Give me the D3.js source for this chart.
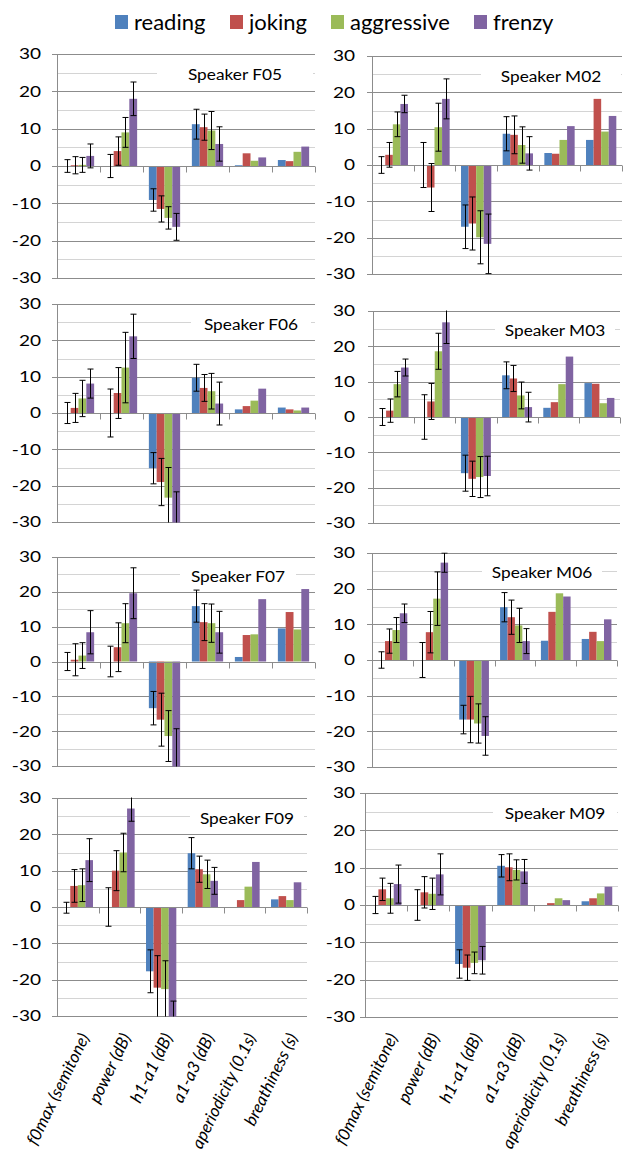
<!DOCTYPE html>
<html>
<head>
<meta charset="utf-8">
<script src="https://cdn.jsdelivr.net/npm/d3@7"></script>
<style>
  body { margin: 0; background: #fff; }
  svg { display: block; font-family: Lato, "Open Sans", sans-serif; }
</style>
</head>
<body>
<div id="chart"></div>
<script>
var width = 630;
var height = 1156;

// categories / series
var styles = ["reading", "joking", "aggressive", "frenzy"];
var colors = ["#4F81BD", "#C0504D", "#9BBB59", "#8064A2"];
var features = ["f0max (semitone)", "power (dB)", "h1-a1 (dB)", "a1-a3 (dB)", "aperiodicity (0.1s)", "breathiness (s)"];
var yTicks = [-30, -20, -10, 0, 10, 20, 30];
var speakers = ["F05", "M02", "F06", "M03", "F07", "M06", "F09", "M09"];

// means: one row per feature, columns = reading, joking, aggressive, frenzy
var meanF05 = [[0, 0.2, 0.3, 2.7], [0, 4.0, 9.0, 18.0], [-9.1, -11.5, -13.9, -16.3], [11.2, 10.4, 9.5, 5.9], [0.2, 3.4, 1.4, 2.3], [1.6, 1.3, 3.8, 5.2]];
var meanM02 = [[0, 2.8, 11.2, 16.8], [0, -6.2, 10.4, 18.2], [-17.0, -16.1, -19.9, -21.7], [8.6, 8.3, 5.5, 3.2], [3.3, 3.1, 6.9, 10.7], [6.9, 18.2, 9.2, 13.5]];
var meanF06 = [[0, 1.4, 4.0, 8.1], [0, 5.5, 12.5, 21.1], [-15.2, -19.0, -23.3, -31], [9.7, 6.9, 6.0, 2.6], [1.0, 1.9, 3.4, 6.7], [1.5, 1.0, 0.7, 1.5]];
var meanM03 = [[0, 1.8, 9.3, 14.0], [0, 4.4, 18.6, 26.8], [-15.9, -17.5, -17.0, -16.7], [11.8, 10.9, 6.1, 2.8], [2.6, 4.2, 9.3, 17.1], [9.6, 9.4, 3.9, 5.4]];
var meanF07 = [[0, 0.5, 1.7, 8.4], [0, 4.1, 11.0, 19.6], [-13.4, -16.7, -21.4, -30.5], [15.9, 11.3, 11.0, 8.4], [1.3, 7.6, 7.8, 17.9], [9.5, 14.2, 9.2, 20.8]];
var meanM06 = [[0, 5.3, 8.4, 13.1], [0, 7.8, 17.2, 27.3], [-16.7, -16.7, -17.8, -21.3], [14.8, 12.0, 9.7, 5.3], [5.4, 13.5, 18.7, 17.8], [5.9, 7.9, 5.3, 11.4]];
var meanF09 = [[-0.2, 5.8, 6.0, 12.9], [0, 10.0, 15.0, 27.1], [-17.7, -22.2, -22.6, -30.5], [14.8, 10.4, 9.0, 7.2], [0, 1.9, 5.6, 12.4], [2.1, 3.0, 1.9, 6.8]];
var meanM09 = [[0, 4.2, 1.8, 5.6], [0, 3.4, 3.0, 8.2], [-15.8, -16.8, -15.5, -14.8], [10.5, 10.1, 9.4, 9.0], [0, 0.5, 1.8, 1.3], [1.0, 1.8, 3.1, 4.9]];

// error bars (only the first four features have them)
var errF05 = [[1.7, 2.3, 2.0, 3.2], [3.1, 3.8, 4.0, 4.5], [3.0, 3.5, 3.0, 3.6], [4.0, 3.5, 5.1, 4.6]];
var errM02 = [[2.3, 3.4, 3.4, 2.4], [6.2, 6.6, 6.6, 5.5], [6.0, 7.3, 7.3, 8.2], [4.7, 5.2, 5.0, 4.6]];
var errF06 = [[2.9, 4.0, 5.0, 4.0], [6.6, 7.0, 9.7, 6.1], [4.3, 6.5, 8.3, 9.3], [3.7, 3.7, 4.9, 5.9]];
var errM03 = [[2.4, 3.3, 3.6, 2.4], [6.3, 5.1, 5.1, 6.0], [5.1, 5.0, 5.8, 5.6], [3.8, 3.7, 3.8, 4.2]];
var errF07 = [[2.6, 4.6, 3.7, 6.2], [4.4, 7.0, 5.6, 7.3], [4.8, 7.6, 7.3, 11.2], [4.6, 5.3, 5.5, 6.0]];
var errM06 = [[2.3, 3.4, 3.5, 2.6], [4.9, 5.8, 7.5, 2.7], [4.0, 6.5, 5.5, 5.4], [4.1, 4.8, 4.8, 3.5]];
var errF09 = [[1.5, 4.5, 4.5, 5.9], [5.3, 5.5, 5.3, 3.5], [5.9, 8.8, 7.8, 4.6], [4.3, 3.6, 3.9, 3.7]];
var errM09 = [[2.3, 3.0, 4.0, 5.1], [4.1, 4.2, 4.2, 5.5], [3.8, 3.4, 2.9, 3.7], [3.0, 3.6, 2.7, 3.2]];

var means = [meanF05, meanM02, meanF06, meanM03, meanF07, meanM06, meanF09, meanM09];
var errs = [errF05, errM02, errF06, errM03, errF07, errM06, errF09, errM09];

// panel placement (pixels): plot left/right, y of +30 / -30, title centre & box half width, tick label x
var layout = [
  {x0: 57,  x1: 315, top: 54,  bot: 278,  tx: 235, tw: 78, lx: 41},
  {x0: 372, x1: 622, top: 56,  bot: 274,  tx: 551, tw: 70, lx: 355},
  {x0: 57,  x1: 315, top: 304, bot: 522,  tx: 251, tw: 60, lx: 41},
  {x0: 373, x1: 620, top: 311, bot: 523,  tx: 555, tw: 60, lx: 355},
  {x0: 57,  x1: 315, top: 557, bot: 766,  tx: 238, tw: 58, lx: 41},
  {x0: 372, x1: 617, top: 553, bot: 767,  tx: 542, tw: 60, lx: 355},
  {x0: 57,  x1: 307, top: 798, bot: 1016, tx: 247, tw: 57, lx: 41},
  {x0: 365, x1: 618, top: 793, bot: 1017, tx: 555, tw: 62, lx: 355}
];

var svg = d3.select("#chart")
  .append("svg")
  .attr("width", width)
  .attr("height", height);

// legend
var legendX = [115, 230, 331, 474];
var legend = svg.append("g").attr("class", "legend");
styles.forEach(function(s, i) {
  legend.append("rect")
    .attr("x", legendX[i]).attr("y", 15)
    .attr("width", 13).attr("height", 14)
    .attr("fill", colors[i]);
  legend.append("text")
    .attr("x", legendX[i] + 19).attr("y", 30)
    .attr("font-size", 22)
    .attr("fill", "#000")
    .text(s);
});

speakers.forEach(function(sp, p) {
  var L = layout[p];
  var g = svg.append("g").attr("class", "panel-" + sp);

  var y = d3.scaleLinear().domain([-30, 30]).range([L.bot, L.top]);
  var x = d3.scaleBand().domain(features).range([L.x0, L.x1]).padding(0);
  var xs = d3.scaleBand().domain(styles).range([0, x.bandwidth()])
    .paddingInner(0).paddingOuter(0.75);

  var clipId = "clip-" + sp;
  svg.append("clipPath").attr("id", clipId)
    .append("rect")
    .attr("x", L.x0).attr("y", y(30) - 0.5)
    .attr("width", L.x1 - L.x0).attr("height", y(-30) - y(30) + 1);

  // minor gridlines
  g.selectAll(".minor")
    .data(d3.range(-25, 30, 10))
    .enter().append("line")
    .attr("x1", L.x0).attr("x2", L.x1)
    .attr("y1", function(d) { return Math.round(y(d)) + 0.5; })
    .attr("y2", function(d) { return Math.round(y(d)) + 0.5; })
    .attr("stroke", "#d4d4d4").attr("stroke-width", 1);

  // major gridlines with small outside ticks
  g.selectAll(".major")
    .data(yTicks)
    .enter().append("line")
    .attr("x1", L.x0 - 5).attr("x2", L.x1)
    .attr("y1", function(d) { return Math.round(y(d)) + 0.5; })
    .attr("y2", function(d) { return Math.round(y(d)) + 0.5; })
    .attr("stroke", "#8c8c8c").attr("stroke-width", 1);

  // tick labels
  g.selectAll(".ylab")
    .data(yTicks)
    .enter().append("text")
    .attr("transform", function(d) { return "translate(" + L.lx + "," + y(d) + ") scale(1.27,1)"; })
    .attr("text-anchor", "end")
    .attr("dy", "0.36em")
    .attr("font-size", 15)
    .attr("fill", "#000")
    .text(function(d) { return d; });

  // title with white box
  var ty = y(24.5);
  g.append("rect")
    .attr("x", L.tx - L.tw).attr("y", ty - 9)
    .attr("width", 2 * L.tw).attr("height", 18)
    .attr("fill", "#fff");
  g.append("text")
    .attr("transform", "translate(" + L.tx + "," + ty + ") scale(1.08,1)")
    .attr("text-anchor", "middle")
    .attr("dy", "0.36em")
    .attr("font-size", 16)
    .attr("fill", "#000")
    .text("Speaker " + sp);

  // bars
  var rows = [];
  features.forEach(function(f, fi) {
    styles.forEach(function(s, si) {
      rows.push({f: f, s: s, si: si, v: means[p][fi][si], e: fi < errs[p].length ? errs[p][fi][si] : null});
    });
  });

  g.append("g").attr("clip-path", "url(#" + clipId + ")")
    .selectAll("rect")
    .data(rows)
    .enter().append("rect")
    .attr("x", function(d) { return x(d.f) + xs(d.s); })
    .attr("width", xs.bandwidth())
    .attr("y", function(d) { return y(Math.max(0, d.v)); })
    .attr("height", function(d) { return Math.abs(y(d.v) - y(0)); })
    .attr("fill", function(d) { return colors[d.si]; });

  // zero axis with category ticks
  var y0 = Math.round(y(0)) + 0.5;
  g.append("line")
    .attr("x1", L.x0).attr("x2", L.x1)
    .attr("y1", y0).attr("y2", y0)
    .attr("stroke", "#8c8c8c");
  g.selectAll(".xtick")
    .data(features.slice(1).map(function(f) { return x(f); }).concat([L.x1]))
    .enter().append("line")
    .attr("x1", function(d) { return Math.round(d) + 0.5; })
    .attr("x2", function(d) { return Math.round(d) + 0.5; })
    .attr("y1", y0).attr("y2", y0 + 6)
    .attr("stroke", "#8c8c8c");

  // value axis
  g.append("line")
    .attr("x1", L.x0 + 0.5).attr("x2", L.x0 + 0.5)
    .attr("y1", y(30)).attr("y2", y(-30))
    .attr("stroke", "#8c8c8c");

  // error bars
  var eb = g.append("g").attr("clip-path", "url(#" + clipId + ")")
    .selectAll("g")
    .data(rows.filter(function(d) { return d.e !== null; }))
    .enter().append("g")
    .attr("stroke", "#000").attr("stroke-width", 1);
  function cx(d) { return Math.round(x(d.f) + xs(d.s) + xs.bandwidth() / 2) + 0.5; }
  eb.append("line")
    .attr("x1", cx).attr("x2", cx)
    .attr("y1", function(d) { return y(d.v + d.e); })
    .attr("y2", function(d) { return y(d.v - d.e); });
  eb.append("line")
    .attr("x1", function(d) { return cx(d) - 3; }).attr("x2", function(d) { return cx(d) + 3; })
    .attr("y1", function(d) { return y(d.v + d.e); })
    .attr("y2", function(d) { return y(d.v + d.e); });
  eb.append("line")
    .attr("x1", function(d) { return cx(d) - 3; }).attr("x2", function(d) { return cx(d) + 3; })
    .attr("y1", function(d) { return y(d.v - d.e); })
    .attr("y2", function(d) { return y(d.v - d.e); });

  // rotated category labels under the bottom row
  if (p >= 6) {
    g.selectAll(".xlab")
      .data(features)
      .enter().append("text")
      .attr("transform", function(f) {
        return "translate(" + (x(f) + x.bandwidth() / 2 + 12) + ",1037) rotate(-64)";
      })
      .attr("text-anchor", "end")
      .attr("font-size", 17)
      .attr("font-style", "italic")
      .attr("fill", "#000")
      .text(function(f) { return f; });
  }
});
</script>
</body>
</html>
